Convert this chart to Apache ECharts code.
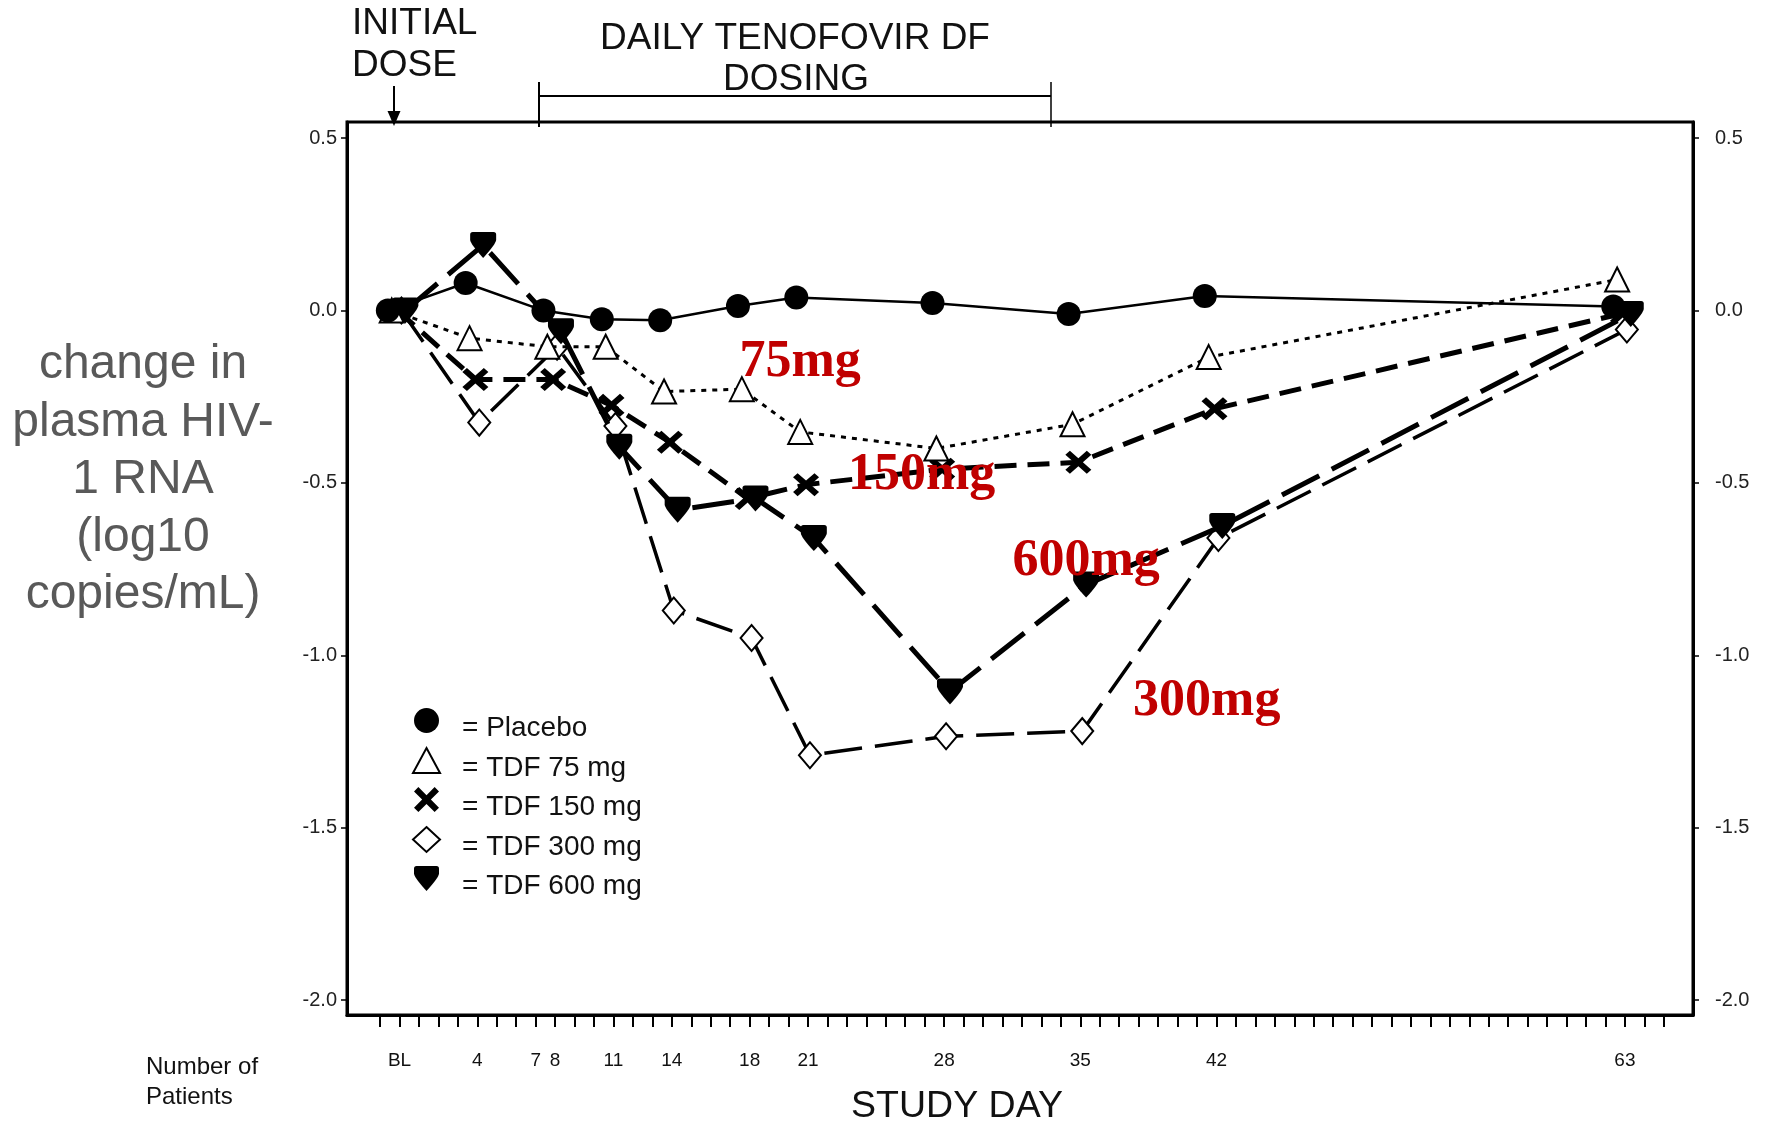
<!DOCTYPE html>
<html>
<head>
<meta charset="utf-8">
<script src="https://cdn.jsdelivr.net/npm/echarts@6/dist/echarts.min.js"></script>
<style>
  html, body { margin: 0; padding: 0; background: #fff; }
  #c { width: 1765px; height: 1122px; }
</style>
</head>
<body>
<div id="c"></div>
<script>
// ---- data ----
const xTickDays   = [0, 4, 7, 8, 11, 14, 18, 21, 28, 35, 42, 63];
const xTickLabels = ['BL', '4', '7', '8', '11', '14', '18', '21', '28', '35', '42', '63'];
const yTicks      = [-2.0, -1.5, -1.0, -0.5, 0.0, 0.5];

const days = [0, 4, 8, 11, 14, 18, 21, 28, 35, 42, 63];
const seriesNames = ['Placebo', 'TDF 75 mg', 'TDF 150 mg', 'TDF 300 mg', 'TDF 600 mg'];
const placebo = [0, 0.08, 0.0, -0.025, -0.028, 0.013, 0.038, 0.022, -0.01, 0.042, 0.012];
const tdf75   = [0, -0.08, -0.105, -0.105, -0.235, -0.228, -0.352, -0.40, -0.33, -0.135, 0.09];
const tdf150  = [0, -0.20, -0.20, -0.275, -0.382, -0.545, -0.505, -0.46, -0.44, -0.285, -0.008];
const tdf300  = [0, -0.325, -0.105, -0.335, -0.87, -0.95, -1.29, -1.235, -1.22, -0.66, -0.055];
const tdf600  = [0, 0.19, -0.06, -0.395, -0.578, -0.545, -0.66, -1.105, -0.795, -0.625, -0.01];
// small horizontal offsets (days) of each series' markers, as drawn in the source
const dayJitter = [-0.6, -0.4, -0.1, 0.1, 0.3];

// red dose annotations: [text, day, value]
const doseLabels = [['75mg', 20.6, -0.152], ['150mg', 26.84, -0.48], ['600mg', 35.3, -0.727], ['300mg', 41.5, -1.135]];

// ---- chart ----
const minorTicks = [];
for (let d = -1; d <= 65; d++) minorTicks.push(d);

const XMARK = 'path://M0,3.5 L3.5,0 L10,6.5 L16.5,0 L20,3.5 L13.5,10 L20,16.5 L16.5,20 L10,13.5 L3.5,20 L0,16.5 L6.5,10 Z';
const SHIELD = 'path://M0,2 Q0,0 2,0 L18,0 Q20,0 20,2 L20,6 Q20,9 10,20 Q0,9 0,6 Z';

function pts(vals, k) { return days.map((d, i) => [d + dayJitter[k], vals[i]]); }

const chart = echarts.init(document.getElementById('c'), null, { renderer: 'canvas' });
const FONT = '"Liberation Sans", Arial, sans-serif';

const yAxisBase = {
  type: 'value', min: -2.0435, max: 0.547,
  axisLine: { show: true, onZero: false, lineStyle: { color: '#000', width: 3 } },
  axisTick: { show: true, customValues: yTicks, length: 6, lineStyle: { color: '#000', width: 1.5 } },
  splitLine: { show: false }
};

const option = {
  animation: false,
  backgroundColor: '#fff',
  textStyle: { fontFamily: FONT },
  grid: { left: 347, right: 72, top: 122, bottom: 107, show: true, borderColor: '#000', borderWidth: 3 },
  xAxis: {
    type: 'value', min: -2.7, max: 66.5,
    axisLine: { show: true, onZero: false, lineStyle: { color: '#000', width: 3 } },
    axisTick: { show: true, customValues: minorTicks, length: 12, lineStyle: { color: '#000', width: 2 } },
    axisLabel: {
      customValues: xTickDays, margin: 36, fontSize: 19, color: '#111', fontFamily: FONT,
      formatter: function (v) {
        for (let i = 0; i < xTickDays.length; i++) if (Math.abs(xTickDays[i] - v) < 1e-6) return xTickLabels[i];
        return '';
      }
    },
    splitLine: { show: false }
  },
  yAxis: [
    Object.assign({}, yAxisBase, { position: 'left',
      axisLabel: { customValues: yTicks, margin: 10, fontSize: 20, color: '#222', fontFamily: FONT, formatter: v => v.toFixed(1) } }),
    Object.assign({}, yAxisBase, { position: 'right',
      axisLabel: { customValues: yTicks, margin: 22, fontSize: 20, color: '#222', fontFamily: FONT, formatter: v => v.toFixed(1) } })
  ],
  legend: {
    orient: 'vertical', left: 412, top: 708, padding: 0,
    itemWidth: 27, itemHeight: 25, itemGap: 4.5,
    formatter: '{t|= {name}}',
    textStyle: {
      fontSize: 28, color: '#111', fontFamily: FONT,
      rich: { t: { fontSize: 28, color: '#111', fontFamily: FONT, padding: [16, 0, 0, 17] } }
    },
    data: [
      { name: seriesNames[0], icon: 'circle' },
      { name: seriesNames[1], icon: 'triangle' },
      { name: seriesNames[2], icon: XMARK },
      { name: seriesNames[3], icon: 'diamond' },
      { name: seriesNames[4], icon: SHIELD }
    ]
  },
  series: [
    {
      name: seriesNames[0], type: 'line', data: pts(placebo, 0), z: 6,
      symbol: 'circle', symbolSize: 24,
      itemStyle: { color: '#000' },
      lineStyle: { color: '#000', width: 2.5, type: 'solid' }
    },
    {
      name: seriesNames[1], type: 'line', data: pts(tdf75, 1), z: 5,
      symbol: 'triangle', symbolSize: [24, 24],
      itemStyle: { color: '#fff', borderColor: '#000', borderWidth: 2 },
      lineStyle: { color: '#000', width: 3, type: [5, 6] }
    },
    {
      name: seriesNames[2], type: 'line', data: pts(tdf150, 2), z: 4,
      symbol: XMARK, symbolSize: [26, 23],
      itemStyle: { color: '#000' },
      lineStyle: { color: '#000', width: 5, type: [22, 11] }
    },
    {
      name: seriesNames[3], type: 'line', data: pts(tdf300, 3), z: 3,
      symbol: 'diamond', symbolSize: [22, 26],
      itemStyle: { color: '#fff', borderColor: '#000', borderWidth: 2 },
      lineStyle: { color: '#000', width: 3.5, type: [38, 13] }
    },
    {
      name: seriesNames[4], type: 'line', data: pts(tdf600, 4), z: 4,
      symbol: SHIELD, symbolSize: [26, 26],
      itemStyle: { color: '#000' },
      lineStyle: { color: '#000', width: 5, type: [42, 14] }
    }
  ]
};
chart.setOption(option);

// ---- annotations ----
const g = [];
function txt(text, x, y, font, fill, align, valign) {
  g.push({ type: 'text', x: x, y: y, z: 100,
    style: { text: text, font: font, fill: fill, align: align, verticalAlign: valign } });
}
txt('INITIAL', 352, 24, '37px ' + FONT, '#111', 'left', 'middle');
txt('DOSE', 352, 66, '37px ' + FONT, '#111', 'left', 'middle');
txt('DAILY TENOFOVIR DF', 795, 39, '37px ' + FONT, '#111', 'center', 'middle');
txt('DOSING', 796, 80, '37px ' + FONT, '#111', 'center', 'middle');
// arrow
g.push({ type: 'line', z: 100, shape: { x1: 394, y1: 86, x2: 394, y2: 114 }, style: { stroke: '#000', lineWidth: 2 } });
g.push({ type: 'polygon', z: 100, shape: { points: [[387.5, 111], [400.5, 111], [394, 126]] }, style: { fill: '#000' } });
// bracket
g.push({ type: 'line', z: 100, shape: { x1: 539, y1: 96, x2: 1051, y2: 96 }, style: { stroke: '#000', lineWidth: 2 } });
g.push({ type: 'line', z: 100, shape: { x1: 539, y1: 82, x2: 539, y2: 127 }, style: { stroke: '#000', lineWidth: 2 } });
g.push({ type: 'line', z: 100, shape: { x1: 1051, y1: 82, x2: 1051, y2: 127 }, style: { stroke: '#000', lineWidth: 1.5 } });
// axis titles
g.push({ type: 'text', x: 143, y: 480, z: 100,
  style: { text: 'change in\nplasma HIV-\n1 RNA\n(log10\ncopies/mL)', font: '48px ' + FONT, fill: '#595959',
           align: 'center', verticalAlign: 'middle', lineHeight: 57.5 } });
g.push({ type: 'text', x: 146, y: 1052, z: 100,
  style: { text: 'Number of\nPatients', font: '24px ' + FONT, fill: '#111', align: 'left', verticalAlign: 'top', lineHeight: 30 } });
txt('STUDY DAY', 957, 1107, '37.5px ' + FONT, '#111', 'center', 'middle');
// red dose labels
doseLabels.forEach(function (d) {
  const p = chart.convertToPixel({ gridIndex: 0 }, [d[1], d[2]]);
  txt(d[0], p[0], p[1], 'bold 52px "Liberation Serif", "Times New Roman", serif', '#C00000', 'center', 'middle');
});
chart.setOption({ graphic: g });
</script>
</body>
</html>
